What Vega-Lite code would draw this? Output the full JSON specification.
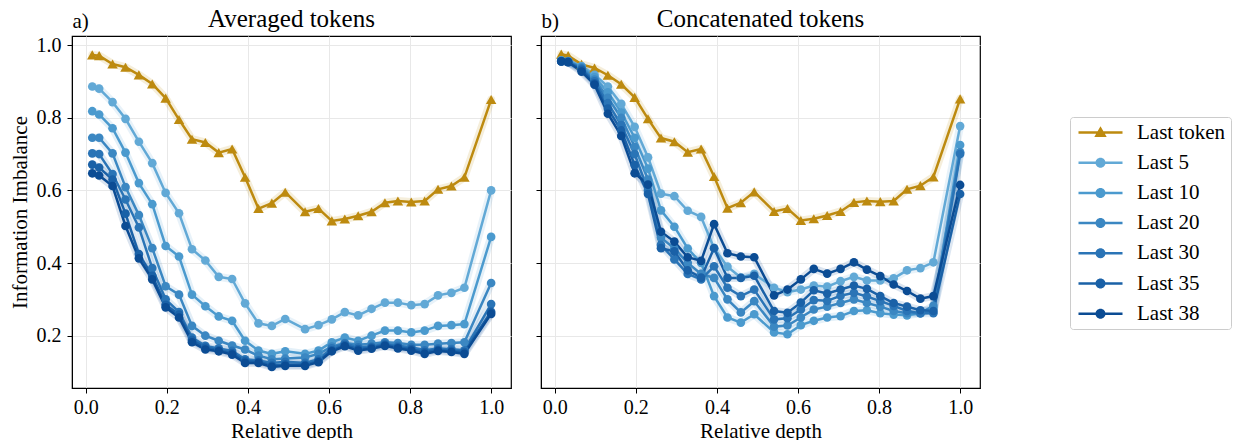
{
"$schema": "https://vega.github.io/schema/vega-lite/v6.json",
"padding": {"left": 8, "top": 6, "right": 0, "bottom": 0},
"background": "white",
"config": {
  "font": "Liberation Serif",
  "view": {"stroke": "black", "strokeWidth": 1.2},
  "axis": {"labelFont": "Liberation Serif", "titleFont": "Liberation Serif", "labelFontSize": 20, "titleFontSize": 21, "titleFontWeight": "normal", "labelColor": "black", "titleColor": "black", "domainColor": "black", "tickColor": "black", "tickSize": 5, "gridColor": "#e8e8e8", "gridWidth": 1, "labelFlush": false, "labelOverlap": false},
  "title": {"font": "Liberation Serif", "fontSize": 25, "fontWeight": "normal", "color": "black"},
  "legend": {"orient": "none", "legendX": 998, "legendY": 81, "labelFont": "Liberation Serif", "labelFontSize": 21, "labelColor": "black", "symbolSize": 400, "symbolStrokeWidth": 0, "symbolOffset": 15, "labelOffset": 26, "rowPadding": 8.2, "padding": 5, "strokeColor": "#cccccc", "fillColor": "white", "cornerRadius": 3}
},
"datasets": {
"avg": [
{"series":"Last token","depth":0.016,"value":0.973},{"series":"Last token","depth":0.033,"value":0.971},{"series":"Last token","depth":0.066,"value":0.948},{"series":"Last token","depth":0.098,"value":0.939},{"series":"Last token","depth":0.131,"value":0.918},{"series":"Last token","depth":0.164,"value":0.893},{"series":"Last token","depth":0.197,"value":0.854},{"series":"Last token","depth":0.230,"value":0.795},{"series":"Last token","depth":0.262,"value":0.741},{"series":"Last token","depth":0.295,"value":0.732},{"series":"Last token","depth":0.328,"value":0.704},{"series":"Last token","depth":0.361,"value":0.714},{"series":"Last token","depth":0.393,"value":0.636},{"series":"Last token","depth":0.426,"value":0.550},{"series":"Last token","depth":0.459,"value":0.565},{"series":"Last token","depth":0.492,"value":0.595},{"series":"Last token","depth":0.541,"value":0.541},{"series":"Last token","depth":0.574,"value":0.550},{"series":"Last token","depth":0.607,"value":0.516},{"series":"Last token","depth":0.639,"value":0.521},{"series":"Last token","depth":0.672,"value":0.530},{"series":"Last token","depth":0.705,"value":0.541},{"series":"Last token","depth":0.738,"value":0.566},{"series":"Last token","depth":0.770,"value":0.571},{"series":"Last token","depth":0.803,"value":0.568},{"series":"Last token","depth":0.836,"value":0.571},{"series":"Last token","depth":0.869,"value":0.603},{"series":"Last token","depth":0.902,"value":0.612},{"series":"Last token","depth":0.934,"value":0.636},{"series":"Last token","depth":1.0,"value":0.850},
{"series":"Last 5","depth":0.016,"value":0.886},{"series":"Last 5","depth":0.033,"value":0.880},{"series":"Last 5","depth":0.066,"value":0.843},{"series":"Last 5","depth":0.098,"value":0.797},{"series":"Last 5","depth":0.131,"value":0.734},{"series":"Last 5","depth":0.164,"value":0.675},{"series":"Last 5","depth":0.197,"value":0.593},{"series":"Last 5","depth":0.230,"value":0.537},{"series":"Last 5","depth":0.262,"value":0.438},{"series":"Last 5","depth":0.295,"value":0.407},{"series":"Last 5","depth":0.328,"value":0.362},{"series":"Last 5","depth":0.361,"value":0.356},{"series":"Last 5","depth":0.393,"value":0.289},{"series":"Last 5","depth":0.426,"value":0.234},{"series":"Last 5","depth":0.459,"value":0.227},{"series":"Last 5","depth":0.492,"value":0.246},{"series":"Last 5","depth":0.541,"value":0.218},{"series":"Last 5","depth":0.574,"value":0.229},{"series":"Last 5","depth":0.607,"value":0.245},{"series":"Last 5","depth":0.639,"value":0.265},{"series":"Last 5","depth":0.672,"value":0.256},{"series":"Last 5","depth":0.705,"value":0.274},{"series":"Last 5","depth":0.738,"value":0.291},{"series":"Last 5","depth":0.770,"value":0.291},{"series":"Last 5","depth":0.803,"value":0.284},{"series":"Last 5","depth":0.836,"value":0.287},{"series":"Last 5","depth":0.869,"value":0.311},{"series":"Last 5","depth":0.902,"value":0.318},{"series":"Last 5","depth":0.934,"value":0.332},{"series":"Last 5","depth":1.0,"value":0.600},
{"series":"Last 10","depth":0.016,"value":0.818},{"series":"Last 10","depth":0.033,"value":0.809},{"series":"Last 10","depth":0.066,"value":0.771},{"series":"Last 10","depth":0.098,"value":0.704},{"series":"Last 10","depth":0.131,"value":0.620},{"series":"Last 10","depth":0.164,"value":0.562},{"series":"Last 10","depth":0.197,"value":0.447},{"series":"Last 10","depth":0.230,"value":0.418},{"series":"Last 10","depth":0.262,"value":0.313},{"series":"Last 10","depth":0.295,"value":0.281},{"series":"Last 10","depth":0.328,"value":0.253},{"series":"Last 10","depth":0.361,"value":0.241},{"series":"Last 10","depth":0.393,"value":0.186},{"series":"Last 10","depth":0.426,"value":0.159},{"series":"Last 10","depth":0.459,"value":0.150},{"series":"Last 10","depth":0.492,"value":0.157},{"series":"Last 10","depth":0.541,"value":0.150},{"series":"Last 10","depth":0.574,"value":0.159},{"series":"Last 10","depth":0.607,"value":0.182},{"series":"Last 10","depth":0.639,"value":0.195},{"series":"Last 10","depth":0.672,"value":0.186},{"series":"Last 10","depth":0.705,"value":0.200},{"series":"Last 10","depth":0.738,"value":0.214},{"series":"Last 10","depth":0.770,"value":0.214},{"series":"Last 10","depth":0.803,"value":0.209},{"series":"Last 10","depth":0.836,"value":0.214},{"series":"Last 10","depth":0.869,"value":0.227},{"series":"Last 10","depth":0.902,"value":0.229},{"series":"Last 10","depth":0.934,"value":0.232},{"series":"Last 10","depth":1.0,"value":0.472},
{"series":"Last 20","depth":0.016,"value":0.745},{"series":"Last 20","depth":0.033,"value":0.745},{"series":"Last 20","depth":0.066,"value":0.702},{"series":"Last 20","depth":0.098,"value":0.609},{"series":"Last 20","depth":0.131,"value":0.532},{"series":"Last 20","depth":0.164,"value":0.441},{"series":"Last 20","depth":0.197,"value":0.336},{"series":"Last 20","depth":0.230,"value":0.313},{"series":"Last 20","depth":0.262,"value":0.227},{"series":"Last 20","depth":0.295,"value":0.200},{"series":"Last 20","depth":0.328,"value":0.186},{"series":"Last 20","depth":0.361,"value":0.173},{"series":"Last 20","depth":0.393,"value":0.162},{"series":"Last 20","depth":0.426,"value":0.145},{"series":"Last 20","depth":0.459,"value":0.135},{"series":"Last 20","depth":0.492,"value":0.137},{"series":"Last 20","depth":0.541,"value":0.140},{"series":"Last 20","depth":0.574,"value":0.150},{"series":"Last 20","depth":0.607,"value":0.170},{"series":"Last 20","depth":0.639,"value":0.180},{"series":"Last 20","depth":0.672,"value":0.175},{"series":"Last 20","depth":0.705,"value":0.178},{"series":"Last 20","depth":0.738,"value":0.182},{"series":"Last 20","depth":0.770,"value":0.180},{"series":"Last 20","depth":0.803,"value":0.175},{"series":"Last 20","depth":0.836,"value":0.175},{"series":"Last 20","depth":0.869,"value":0.178},{"series":"Last 20","depth":0.902,"value":0.180},{"series":"Last 20","depth":0.934,"value":0.182},{"series":"Last 20","depth":1.0,"value":0.345},
{"series":"Last 30","depth":0.016,"value":0.702},{"series":"Last 30","depth":0.033,"value":0.700},{"series":"Last 30","depth":0.066,"value":0.645},{"series":"Last 30","depth":0.098,"value":0.575},{"series":"Last 30","depth":0.131,"value":0.498},{"series":"Last 30","depth":0.164,"value":0.386},{"series":"Last 30","depth":0.197,"value":0.300},{"series":"Last 30","depth":0.230,"value":0.265},{"series":"Last 30","depth":0.262,"value":0.195},{"series":"Last 30","depth":0.295,"value":0.172},{"series":"Last 30","depth":0.328,"value":0.165},{"series":"Last 30","depth":0.361,"value":0.158},{"series":"Last 30","depth":0.393,"value":0.135},{"series":"Last 30","depth":0.426,"value":0.132},{"series":"Last 30","depth":0.459,"value":0.125},{"series":"Last 30","depth":0.492,"value":0.128},{"series":"Last 30","depth":0.541,"value":0.125},{"series":"Last 30","depth":0.574,"value":0.135},{"series":"Last 30","depth":0.607,"value":0.165},{"series":"Last 30","depth":0.639,"value":0.178},{"series":"Last 30","depth":0.672,"value":0.168},{"series":"Last 30","depth":0.705,"value":0.170},{"series":"Last 30","depth":0.738,"value":0.178},{"series":"Last 30","depth":0.770,"value":0.172},{"series":"Last 30","depth":0.803,"value":0.168},{"series":"Last 30","depth":0.836,"value":0.160},{"series":"Last 30","depth":0.869,"value":0.165},{"series":"Last 30","depth":0.902,"value":0.163},{"series":"Last 30","depth":0.934,"value":0.160},{"series":"Last 30","depth":1.0,"value":0.287},
{"series":"Last 35","depth":0.016,"value":0.671},{"series":"Last 35","depth":0.033,"value":0.663},{"series":"Last 35","depth":0.066,"value":0.630},{"series":"Last 35","depth":0.098,"value":0.536},{"series":"Last 35","depth":0.131,"value":0.425},{"series":"Last 35","depth":0.164,"value":0.365},{"series":"Last 35","depth":0.197,"value":0.285},{"series":"Last 35","depth":0.230,"value":0.258},{"series":"Last 35","depth":0.262,"value":0.188},{"series":"Last 35","depth":0.295,"value":0.167},{"series":"Last 35","depth":0.328,"value":0.160},{"series":"Last 35","depth":0.361,"value":0.152},{"series":"Last 35","depth":0.393,"value":0.130},{"series":"Last 35","depth":0.426,"value":0.128},{"series":"Last 35","depth":0.459,"value":0.118},{"series":"Last 35","depth":0.492,"value":0.121},{"series":"Last 35","depth":0.541,"value":0.120},{"series":"Last 35","depth":0.574,"value":0.130},{"series":"Last 35","depth":0.607,"value":0.160},{"series":"Last 35","depth":0.639,"value":0.174},{"series":"Last 35","depth":0.672,"value":0.163},{"series":"Last 35","depth":0.705,"value":0.167},{"series":"Last 35","depth":0.738,"value":0.175},{"series":"Last 35","depth":0.770,"value":0.168},{"series":"Last 35","depth":0.803,"value":0.163},{"series":"Last 35","depth":0.836,"value":0.155},{"series":"Last 35","depth":0.869,"value":0.161},{"series":"Last 35","depth":0.902,"value":0.158},{"series":"Last 35","depth":0.934,"value":0.155},{"series":"Last 35","depth":1.0,"value":0.266},
{"series":"Last 38","depth":0.016,"value":0.647},{"series":"Last 38","depth":0.033,"value":0.641},{"series":"Last 38","depth":0.066,"value":0.612},{"series":"Last 38","depth":0.098,"value":0.502},{"series":"Last 38","depth":0.131,"value":0.413},{"series":"Last 38","depth":0.164,"value":0.355},{"series":"Last 38","depth":0.197,"value":0.278},{"series":"Last 38","depth":0.230,"value":0.250},{"series":"Last 38","depth":0.262,"value":0.182},{"series":"Last 38","depth":0.295,"value":0.162},{"series":"Last 38","depth":0.328,"value":0.157},{"series":"Last 38","depth":0.361,"value":0.148},{"series":"Last 38","depth":0.393,"value":0.125},{"series":"Last 38","depth":0.426,"value":0.125},{"series":"Last 38","depth":0.459,"value":0.114},{"series":"Last 38","depth":0.492,"value":0.117},{"series":"Last 38","depth":0.541,"value":0.117},{"series":"Last 38","depth":0.574,"value":0.127},{"series":"Last 38","depth":0.607,"value":0.157},{"series":"Last 38","depth":0.639,"value":0.171},{"series":"Last 38","depth":0.672,"value":0.159},{"series":"Last 38","depth":0.705,"value":0.164},{"series":"Last 38","depth":0.738,"value":0.172},{"series":"Last 38","depth":0.770,"value":0.165},{"series":"Last 38","depth":0.803,"value":0.159},{"series":"Last 38","depth":0.836,"value":0.150},{"series":"Last 38","depth":0.869,"value":0.158},{"series":"Last 38","depth":0.902,"value":0.155},{"series":"Last 38","depth":0.934,"value":0.150},{"series":"Last 38","depth":1.0,"value":0.260}
],
"cat": [
{"series":"Last token","depth":0.016,"value":0.975},{"series":"Last token","depth":0.033,"value":0.971},{"series":"Last token","depth":0.066,"value":0.947},{"series":"Last token","depth":0.098,"value":0.937},{"series":"Last token","depth":0.131,"value":0.917},{"series":"Last token","depth":0.164,"value":0.892},{"series":"Last token","depth":0.197,"value":0.856},{"series":"Last token","depth":0.230,"value":0.797},{"series":"Last token","depth":0.262,"value":0.744},{"series":"Last token","depth":0.295,"value":0.734},{"series":"Last token","depth":0.328,"value":0.705},{"series":"Last token","depth":0.361,"value":0.714},{"series":"Last token","depth":0.393,"value":0.638},{"series":"Last token","depth":0.426,"value":0.551},{"series":"Last token","depth":0.459,"value":0.566},{"series":"Last token","depth":0.492,"value":0.596},{"series":"Last token","depth":0.541,"value":0.542},{"series":"Last token","depth":0.574,"value":0.550},{"series":"Last token","depth":0.607,"value":0.517},{"series":"Last token","depth":0.639,"value":0.522},{"series":"Last token","depth":0.672,"value":0.531},{"series":"Last token","depth":0.705,"value":0.542},{"series":"Last token","depth":0.738,"value":0.567},{"series":"Last token","depth":0.770,"value":0.571},{"series":"Last token","depth":0.803,"value":0.569},{"series":"Last token","depth":0.836,"value":0.571},{"series":"Last token","depth":0.869,"value":0.603},{"series":"Last token","depth":0.902,"value":0.613},{"series":"Last token","depth":0.934,"value":0.637},{"series":"Last token","depth":1.0,"value":0.852},
{"series":"Last 5","depth":0.016,"value":0.958},{"series":"Last 5","depth":0.033,"value":0.956},{"series":"Last 5","depth":0.066,"value":0.942},{"series":"Last 5","depth":0.098,"value":0.918},{"series":"Last 5","depth":0.131,"value":0.886},{"series":"Last 5","depth":0.164,"value":0.838},{"series":"Last 5","depth":0.197,"value":0.775},{"series":"Last 5","depth":0.230,"value":0.691},{"series":"Last 5","depth":0.262,"value":0.591},{"series":"Last 5","depth":0.295,"value":0.584},{"series":"Last 5","depth":0.328,"value":0.544},{"series":"Last 5","depth":0.361,"value":0.527},{"series":"Last 5","depth":0.393,"value":0.441},{"series":"Last 5","depth":0.426,"value":0.390},{"series":"Last 5","depth":0.459,"value":0.360},{"series":"Last 5","depth":0.492,"value":0.370},{"series":"Last 5","depth":0.541,"value":0.332},{"series":"Last 5","depth":0.574,"value":0.320},{"series":"Last 5","depth":0.607,"value":0.327},{"series":"Last 5","depth":0.639,"value":0.338},{"series":"Last 5","depth":0.672,"value":0.335},{"series":"Last 5","depth":0.705,"value":0.350},{"series":"Last 5","depth":0.738,"value":0.362},{"series":"Last 5","depth":0.770,"value":0.352},{"series":"Last 5","depth":0.803,"value":0.352},{"series":"Last 5","depth":0.836,"value":0.358},{"series":"Last 5","depth":0.869,"value":0.380},{"series":"Last 5","depth":0.902,"value":0.386},{"series":"Last 5","depth":0.934,"value":0.402},{"series":"Last 5","depth":1.0,"value":0.777},
{"series":"Last 10","depth":0.016,"value":0.957},{"series":"Last 10","depth":0.033,"value":0.955},{"series":"Last 10","depth":0.066,"value":0.940},{"series":"Last 10","depth":0.098,"value":0.912},{"series":"Last 10","depth":0.131,"value":0.870},{"series":"Last 10","depth":0.164,"value":0.815},{"series":"Last 10","depth":0.197,"value":0.745},{"series":"Last 10","depth":0.230,"value":0.660},{"series":"Last 10","depth":0.262,"value":0.545},{"series":"Last 10","depth":0.295,"value":0.500},{"series":"Last 10","depth":0.328,"value":0.440},{"series":"Last 10","depth":0.361,"value":0.400},{"series":"Last 10","depth":0.393,"value":0.309},{"series":"Last 10","depth":0.426,"value":0.250},{"series":"Last 10","depth":0.459,"value":0.236},{"series":"Last 10","depth":0.492,"value":0.259},{"series":"Last 10","depth":0.541,"value":0.209},{"series":"Last 10","depth":0.574,"value":0.204},{"series":"Last 10","depth":0.607,"value":0.229},{"series":"Last 10","depth":0.639,"value":0.241},{"series":"Last 10","depth":0.672,"value":0.250},{"series":"Last 10","depth":0.705,"value":0.254},{"series":"Last 10","depth":0.738,"value":0.268},{"series":"Last 10","depth":0.770,"value":0.270},{"series":"Last 10","depth":0.803,"value":0.262},{"series":"Last 10","depth":0.836,"value":0.258},{"series":"Last 10","depth":0.869,"value":0.256},{"series":"Last 10","depth":0.902,"value":0.262},{"series":"Last 10","depth":0.934,"value":0.275},{"series":"Last 10","depth":1.0,"value":0.725},
{"series":"Last 20","depth":0.016,"value":0.956},{"series":"Last 20","depth":0.033,"value":0.955},{"series":"Last 20","depth":0.066,"value":0.938},{"series":"Last 20","depth":0.098,"value":0.905},{"series":"Last 20","depth":0.131,"value":0.855},{"series":"Last 20","depth":0.164,"value":0.800},{"series":"Last 20","depth":0.197,"value":0.720},{"series":"Last 20","depth":0.230,"value":0.630},{"series":"Last 20","depth":0.262,"value":0.470},{"series":"Last 20","depth":0.295,"value":0.440},{"series":"Last 20","depth":0.328,"value":0.400},{"series":"Last 20","depth":0.361,"value":0.370},{"series":"Last 20","depth":0.393,"value":0.359},{"series":"Last 20","depth":0.426,"value":0.300},{"series":"Last 20","depth":0.459,"value":0.264},{"series":"Last 20","depth":0.492,"value":0.295},{"series":"Last 20","depth":0.541,"value":0.225},{"series":"Last 20","depth":0.574,"value":0.228},{"series":"Last 20","depth":0.607,"value":0.250},{"series":"Last 20","depth":0.639,"value":0.272},{"series":"Last 20","depth":0.672,"value":0.280},{"series":"Last 20","depth":0.705,"value":0.290},{"series":"Last 20","depth":0.738,"value":0.300},{"series":"Last 20","depth":0.770,"value":0.290},{"series":"Last 20","depth":0.803,"value":0.280},{"series":"Last 20","depth":0.836,"value":0.268},{"series":"Last 20","depth":0.869,"value":0.262},{"series":"Last 20","depth":0.902,"value":0.262},{"series":"Last 20","depth":0.934,"value":0.282},{"series":"Last 20","depth":1.0,"value":0.705},
{"series":"Last 30","depth":0.016,"value":0.956},{"series":"Last 30","depth":0.033,"value":0.954},{"series":"Last 30","depth":0.066,"value":0.935},{"series":"Last 30","depth":0.098,"value":0.900},{"series":"Last 30","depth":0.131,"value":0.840},{"series":"Last 30","depth":0.164,"value":0.780},{"series":"Last 30","depth":0.197,"value":0.700},{"series":"Last 30","depth":0.230,"value":0.600},{"series":"Last 30","depth":0.262,"value":0.450},{"series":"Last 30","depth":0.295,"value":0.410},{"series":"Last 30","depth":0.328,"value":0.370},{"series":"Last 30","depth":0.361,"value":0.355},{"series":"Last 30","depth":0.393,"value":0.391},{"series":"Last 30","depth":0.426,"value":0.332},{"series":"Last 30","depth":0.459,"value":0.309},{"series":"Last 30","depth":0.492,"value":0.327},{"series":"Last 30","depth":0.541,"value":0.245},{"series":"Last 30","depth":0.574,"value":0.248},{"series":"Last 30","depth":0.607,"value":0.272},{"series":"Last 30","depth":0.639,"value":0.298},{"series":"Last 30","depth":0.672,"value":0.296},{"series":"Last 30","depth":0.705,"value":0.310},{"series":"Last 30","depth":0.738,"value":0.318},{"series":"Last 30","depth":0.770,"value":0.308},{"series":"Last 30","depth":0.803,"value":0.295},{"series":"Last 30","depth":0.836,"value":0.282},{"series":"Last 30","depth":0.869,"value":0.268},{"series":"Last 30","depth":0.902,"value":0.262},{"series":"Last 30","depth":0.934,"value":0.262},{"series":"Last 30","depth":1.0,"value":0.700},
{"series":"Last 35","depth":0.016,"value":0.955},{"series":"Last 35","depth":0.033,"value":0.953},{"series":"Last 35","depth":0.066,"value":0.932},{"series":"Last 35","depth":0.098,"value":0.895},{"series":"Last 35","depth":0.131,"value":0.825},{"series":"Last 35","depth":0.164,"value":0.765},{"series":"Last 35","depth":0.197,"value":0.670},{"series":"Last 35","depth":0.230,"value":0.590},{"series":"Last 35","depth":0.262,"value":0.441},{"series":"Last 35","depth":0.295,"value":0.432},{"series":"Last 35","depth":0.328,"value":0.380},{"series":"Last 35","depth":0.361,"value":0.360},{"series":"Last 35","depth":0.393,"value":0.441},{"series":"Last 35","depth":0.426,"value":0.359},{"series":"Last 35","depth":0.459,"value":0.359},{"series":"Last 35","depth":0.492,"value":0.365},{"series":"Last 35","depth":0.541,"value":0.268},{"series":"Last 35","depth":0.574,"value":0.263},{"series":"Last 35","depth":0.607,"value":0.291},{"series":"Last 35","depth":0.639,"value":0.325},{"series":"Last 35","depth":0.672,"value":0.316},{"series":"Last 35","depth":0.705,"value":0.327},{"series":"Last 35","depth":0.738,"value":0.338},{"series":"Last 35","depth":0.770,"value":0.329},{"series":"Last 35","depth":0.803,"value":0.309},{"series":"Last 35","depth":0.836,"value":0.290},{"series":"Last 35","depth":0.869,"value":0.280},{"series":"Last 35","depth":0.902,"value":0.270},{"series":"Last 35","depth":0.934,"value":0.268},{"series":"Last 35","depth":1.0,"value":0.590},
{"series":"Last 38","depth":0.016,"value":0.955},{"series":"Last 38","depth":0.033,"value":0.953},{"series":"Last 38","depth":0.066,"value":0.927},{"series":"Last 38","depth":0.098,"value":0.891},{"series":"Last 38","depth":0.131,"value":0.811},{"series":"Last 38","depth":0.164,"value":0.750},{"series":"Last 38","depth":0.197,"value":0.647},{"series":"Last 38","depth":0.230,"value":0.616},{"series":"Last 38","depth":0.262,"value":0.486},{"series":"Last 38","depth":0.295,"value":0.459},{"series":"Last 38","depth":0.328,"value":0.416},{"series":"Last 38","depth":0.361,"value":0.406},{"series":"Last 38","depth":0.393,"value":0.507},{"series":"Last 38","depth":0.426,"value":0.427},{"series":"Last 38","depth":0.459,"value":0.418},{"series":"Last 38","depth":0.492,"value":0.416},{"series":"Last 38","depth":0.541,"value":0.311},{"series":"Last 38","depth":0.574,"value":0.327},{"series":"Last 38","depth":0.607,"value":0.355},{"series":"Last 38","depth":0.639,"value":0.384},{"series":"Last 38","depth":0.672,"value":0.371},{"series":"Last 38","depth":0.705,"value":0.384},{"series":"Last 38","depth":0.738,"value":0.402},{"series":"Last 38","depth":0.770,"value":0.382},{"series":"Last 38","depth":0.803,"value":0.364},{"series":"Last 38","depth":0.836,"value":0.341},{"series":"Last 38","depth":0.869,"value":0.323},{"series":"Last 38","depth":0.902,"value":0.302},{"series":"Last 38","depth":0.934,"value":0.309},{"series":"Last 38","depth":1.0,"value":0.615}
]
},
"spacing": 22,
"resolve": {"scale": {"color": "shared", "shape": "shared"}, "legend": {"color": "shared", "shape": "shared"}},
"hconcat": [
{
  "width": 439, "height": 352,
  "data": {"name": "avg"},
  "title": {"text": "Averaged tokens", "baseline": "alphabetic", "dy": 46, "anchor": "middle", "frame": "group"},
  "resolve": {"axis": {"x": "independent", "y": "independent"}},
  "layer": [
    {"transform": [{"filter": "false"}],
     "mark": {"type": "point", "filled": true, "opacity": 1},
     "encoding": {
       "x": {"field": "depth", "type": "quantitative", "scale": {"domain": [-0.034, 1.049], "nice": false, "zero": false}, "axis": {"orient": "top", "title": "a)", "labels": false, "ticks": false, "domain": false, "grid": false, "titleAnchor": "start", "titleAlign": "left", "titleBaseline": "alphabetic", "titlePadding": 9, "titleFontSize": 21}},
       "y": {"field": "value", "type": "quantitative", "scale": {"domain": [0.056, 1.025], "nice": false, "zero": false}, "axis": {"title": "Information Imbalance", "values": [0.2, 0.4, 0.6, 0.8, 1.0], "format": ".1f", "labelPadding": 6, "titlePadding": 6, "grid": true}},
       "color": {"field": "series", "type": "nominal", "scale": {"domain": ["Last token","Last 5","Last 10","Last 20","Last 30","Last 35","Last 38"], "range": ["#bd8a0f","#62a9d6","#4b9ace","#3b87c2","#2a74b6","#1a61a7","#0b4c94"]}, "legend": {"title": null}},
       "shape": {"field": "series", "type": "nominal", "scale": {"domain": ["Last token","Last 5","Last 10","Last 20","Last 30","Last 35","Last 38"], "range": [
         "M -2.2 -0.125 L 2.2 -0.125 L 2.2 0.125 L -2.2 0.125 Z M 0 -0.62 L 0.62 0.45 L -0.62 0.45 Z",
         "M -2.2 -0.125 L 2.2 -0.125 L 2.2 0.125 L -2.2 0.125 Z M -0.5 0 A 0.5 0.5 0 1 1 0.5 0 A 0.5 0.5 0 1 1 -0.5 0 Z",
         "M -2.2 -0.125 L 2.2 -0.125 L 2.2 0.125 L -2.2 0.125 Z M -0.5 0 A 0.5 0.5 0 1 1 0.5 0 A 0.5 0.5 0 1 1 -0.5 0 Z",
         "M -2.2 -0.125 L 2.2 -0.125 L 2.2 0.125 L -2.2 0.125 Z M -0.5 0 A 0.5 0.5 0 1 1 0.5 0 A 0.5 0.5 0 1 1 -0.5 0 Z",
         "M -2.2 -0.125 L 2.2 -0.125 L 2.2 0.125 L -2.2 0.125 Z M -0.5 0 A 0.5 0.5 0 1 1 0.5 0 A 0.5 0.5 0 1 1 -0.5 0 Z",
         "M -2.2 -0.125 L 2.2 -0.125 L 2.2 0.125 L -2.2 0.125 Z M -0.5 0 A 0.5 0.5 0 1 1 0.5 0 A 0.5 0.5 0 1 1 -0.5 0 Z",
         "M -2.2 -0.125 L 2.2 -0.125 L 2.2 0.125 L -2.2 0.125 Z M -0.5 0 A 0.5 0.5 0 1 1 0.5 0 A 0.5 0.5 0 1 1 -0.5 0 Z"]}, "legend": {"title": null}}}},
    {"mark": {"type": "line", "strokeWidth": 8, "opacity": 0.15, "strokeCap": "round", "strokeJoin": "round"},
     "encoding": {
       "x": {"field": "depth", "type": "quantitative", "axis": null},
       "y": {"field": "value", "type": "quantitative", "axis": null},
       "color": {"field": "series", "type": "nominal", "legend": null}}},
    {"mark": {"type": "line", "strokeWidth": 2.5},
     "encoding": {
       "x": {"field": "depth", "type": "quantitative", "axis": {"title": "Relative depth", "values": [0, 0.2, 0.4, 0.6, 0.8, 1.0], "format": ".1f", "labelPadding": 4, "titlePadding": 3, "grid": true}},
       "y": {"field": "value", "type": "quantitative", "axis": null},
       "color": {"field": "series", "type": "nominal", "legend": null}}},
    {"transform": [{"filter": "datum.series === 'Last token'"}],
     "mark": {"type": "point", "shape": "triangle-up", "filled": true, "size": 110, "opacity": 1},
     "encoding": {
       "x": {"field": "depth", "type": "quantitative", "axis": null},
       "y": {"field": "value", "type": "quantitative", "axis": null},
       "color": {"field": "series", "type": "nominal", "legend": null}}},
    {"transform": [{"filter": "datum.series !== 'Last token'"}],
     "mark": {"type": "point", "shape": "circle", "filled": true, "size": 75, "opacity": 1},
     "encoding": {
       "x": {"field": "depth", "type": "quantitative", "axis": null},
       "y": {"field": "value", "type": "quantitative", "axis": null},
       "color": {"field": "series", "type": "nominal", "legend": null}}}
  ]
},
{
  "width": 439, "height": 352,
  "data": {"name": "cat"},
  "title": {"text": "Concatenated tokens", "baseline": "alphabetic", "dy": 46, "anchor": "middle", "frame": "group"},
  "resolve": {"axis": {"x": "independent", "y": "independent"}},
  "layer": [
    {"transform": [{"filter": "false"}],
     "mark": {"type": "point", "filled": true, "opacity": 1},
     "encoding": {
       "x": {"field": "depth", "type": "quantitative", "scale": {"domain": [-0.034, 1.049], "nice": false, "zero": false}, "axis": {"orient": "top", "title": "b)", "labels": false, "ticks": false, "domain": false, "grid": false, "titleAnchor": "start", "titleAlign": "left", "titleBaseline": "alphabetic", "titlePadding": 9, "titleFontSize": 21}},
       "y": {"field": "value", "type": "quantitative", "scale": {"domain": [0.056, 1.025], "nice": false, "zero": false}, "axis": {"title": null, "labels": false, "values": [0.2, 0.4, 0.6, 0.8, 1.0], "grid": true}},
       "color": {"field": "series", "type": "nominal", "legend": {"title": null}},
       "shape": {"field": "series", "type": "nominal", "legend": {"title": null}}}},
    {"mark": {"type": "line", "strokeWidth": 8, "opacity": 0.15, "strokeCap": "round", "strokeJoin": "round"},
     "encoding": {
       "x": {"field": "depth", "type": "quantitative", "axis": null},
       "y": {"field": "value", "type": "quantitative", "axis": null},
       "color": {"field": "series", "type": "nominal", "legend": null}}},
    {"mark": {"type": "line", "strokeWidth": 2.5},
     "encoding": {
       "x": {"field": "depth", "type": "quantitative", "axis": {"title": "Relative depth", "values": [0, 0.2, 0.4, 0.6, 0.8, 1.0], "format": ".1f", "labelPadding": 4, "titlePadding": 3, "grid": true}},
       "y": {"field": "value", "type": "quantitative", "axis": null},
       "color": {"field": "series", "type": "nominal", "legend": null}}},
    {"transform": [{"filter": "datum.series === 'Last token'"}],
     "mark": {"type": "point", "shape": "triangle-up", "filled": true, "size": 110, "opacity": 1},
     "encoding": {
       "x": {"field": "depth", "type": "quantitative", "axis": null},
       "y": {"field": "value", "type": "quantitative", "axis": null},
       "color": {"field": "series", "type": "nominal", "legend": null}}},
    {"transform": [{"filter": "datum.series !== 'Last token'"}],
     "mark": {"type": "point", "shape": "circle", "filled": true, "size": 75, "opacity": 1},
     "encoding": {
       "x": {"field": "depth", "type": "quantitative", "axis": null},
       "y": {"field": "value", "type": "quantitative", "axis": null},
       "color": {"field": "series", "type": "nominal", "legend": null}}}
  ]
}
]
}
